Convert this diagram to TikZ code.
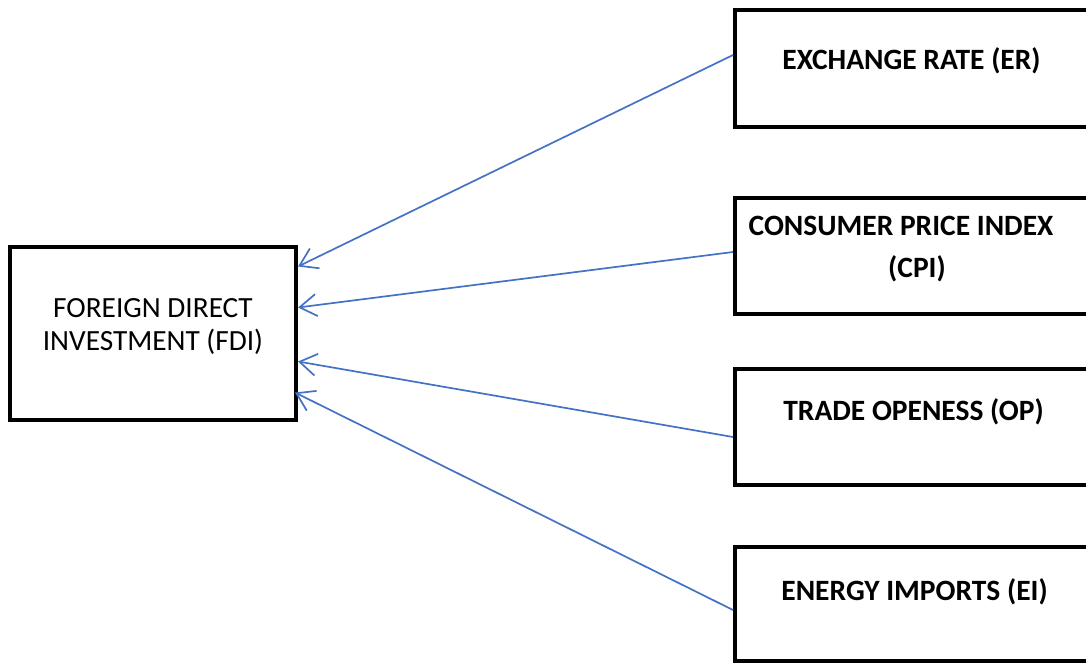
\documentclass[tikz,border=0pt]{standalone}
\usepackage{fontspec}
\setmainfont{Carlito}
\usetikzlibrary{arrows.meta}
\definecolor{arrowblue}{HTML}{4472C4}
\tikzset{
  box/.style={draw=black, line width=4pt, rectangle, inner sep=0pt},
  lbl/.style={font=\fontsize{29.5}{36}\selectfont\bfseries, inner sep=0pt, anchor=center, align=center},
  mainlbl/.style={font=\fontsize{29.3}{33}\selectfont, inner sep=0pt, align=center},
  conn/.style={draw=arrowblue, line width=1.7pt, -{Straight Barb[length=17pt,width=22pt]}}
}
\begin{document}
\begin{tikzpicture}[x=1pt,y=-1pt]
\useasboundingbox (0,0) rectangle (1086,664);
\clip (0,0) rectangle (1086,664);
\fill[white] (0,0) rectangle (1086,664);
% boxes
\node[box, minimum width=286pt, minimum height=173pt] (fdi) at (153,333.5) {};
\node[box, minimum width=355pt, minimum height=117pt] (er) at (912.5,68.5) {};
\node[box, minimum width=355pt, minimum height=116pt] (cpi) at (912.5,256) {};
\node[box, minimum width=355pt, minimum height=116pt] (op) at (912.5,427) {};
\node[box, minimum width=355pt, minimum height=114pt] (ei) at (912.5,604) {};
% labels
\node[mainlbl] (fdit) at (153,327) {FOREIGN DIRECT\\INVESTMENT (FDI)};
\node[lbl] (ert) at (911.5,61) {EXCHANGE RATE (ER)};
\node[lbl] (cpit1) at (901,226) {CONSUMER PRICE INDEX};
\node[lbl] (cpit2) at (917,269) {(CPI)};
\node[lbl] (opt) at (913.5,412) {TRADE OPENESS (OP)};
\node[lbl] (eit) at (914.5,592) {ENERGY IMPORTS (EI)};
% connectors
\draw[conn] ([yshift=13.5pt]er.west) -- ([yshift=67pt]fdi.east);
\draw[conn] ([yshift=4pt]cpi.west) -- ([yshift=26pt]fdi.east);
\draw[conn] ([yshift=-10pt]op.west) -- ([yshift=-28pt]fdi.east);
\draw[conn] ([yshift=-6pt]ei.west) -- ([xshift=-3pt,yshift=-59pt]fdi.east);
\end{tikzpicture}
\end{document}
